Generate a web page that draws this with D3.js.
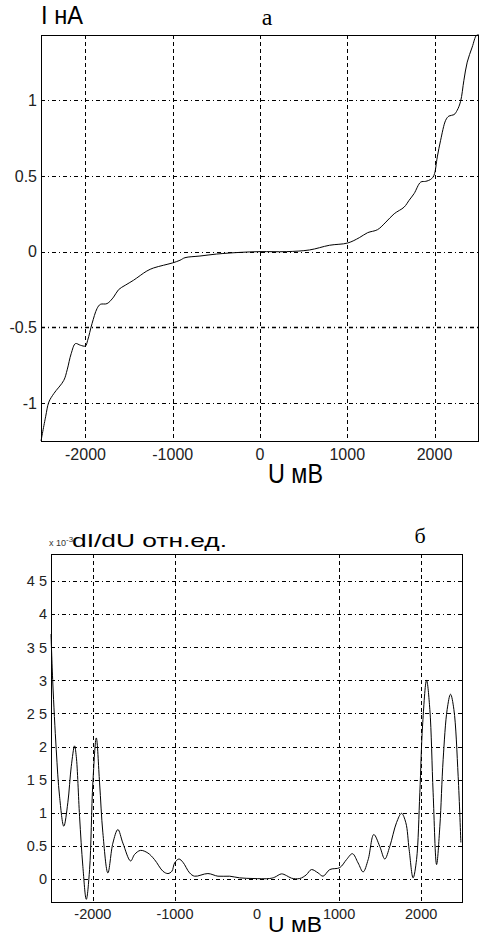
<!DOCTYPE html>
<html>
<head>
<meta charset="utf-8">
<script src="https://cdn.jsdelivr.net/npm/d3@7"></script>
<style>
  body { margin: 0; background: #fff; }
  svg { display: block; font-family: "Liberation Sans", Arial, sans-serif; }
</style>
</head>
<body>
<svg id="chart" width="496" height="945"></svg>
<script>
// I-V curve (panel a): voltage in mV, current in nA
const ivU = [-2510, -2457, -2420, -2363, -2249, -2210, -2164, -2115, -2058, -2001, -1975, -1925, -1868, -1830,
  -1753, -1678, -1621, -1545, -1450, -1297, -1221, -1107, -1005, -917, -860, -688, -498, -232, 0, 301, 567,
  796, 1005, 1138, 1233, 1347, 1443, 1538, 1652, 1709, 1766, 1842, 1900, 1957, 1994, 2032, 2070, 2128, 2165,
  2223, 2260, 2299, 2337, 2375, 2432, 2482, 2510];
const ivI = [-1.25, -1.09, -0.993, -0.937, -0.85, -0.78, -0.673, -0.607, -0.618, -0.623, -0.585, -0.475, -0.376, -0.348,
  -0.343, -0.30, -0.251, -0.222, -0.189, -0.128, -0.108, -0.09, -0.075, -0.057, -0.04, -0.029, -0.016, -0.005, 0, 0, 0.011,
  0.042, 0.057, 0.092, 0.125, 0.145, 0.195, 0.25, 0.294, 0.339, 0.383, 0.459, 0.464, 0.477, 0.504, 0.625, 0.735, 0.867, 0.895,
  0.904, 0.933, 0.992, 1.131, 1.251, 1.35, 1.428, 1.43];

// dI/dU (panel б), x10^-3 rel. units
const dU = [-2510, -2488, -2446, -2406, -2354, -2305, -2263, -2223, -2202, -2162, -2122, -2080, -2040, -2000, -1958,
  -1918, -1878, -1817, -1756, -1695, -1634, -1540, -1491, -1420, -1329, -1248, -1146, -1085, -1037, -1004, -951, -902,
  -821, -760, -598, -476, -333, -211, -49, 155, 216, 298, 358, 420, 521, 600, 663, 744, 805, 887, 1009, 1090, 1163,
  1232, 1293, 1354, 1423, 1496, 1557, 1618, 1700, 1761, 1813, 1854, 1902, 1944, 1984, 2017, 2066, 2106, 2146, 2188,
  2228, 2268, 2317, 2358, 2399, 2451, 2484];
const dG = [3.7, 2.96, 1.95, 1.25, 0.795, 1.15, 1.70, 2.01, 1.85, 0.946, 0.19, -0.31, 0.14, 1.45, 2.13,
  1.45, 0.695, 0.09, 0.54, 0.745, 0.54, 0.27, 0.37, 0.43, 0.39, 0.29, 0.115, 0.08, 0.115, 0.24, 0.30, 0.25,
  0.09, 0.04, 0.08, 0.04, 0.04, 0.015, 0.005, 0.005, 0.025, 0.075, 0.05, 0.01, 0.005, 0.06, 0.14, 0.09, 0.04, 0.14, 0.17, 0.29, 0.38,
  0.24, 0.105, 0.29, 0.67, 0.49, 0.30, 0.49, 0.85, 0.99, 0.85, 0.44, 0.015, 0.29, 1.30, 2.31, 3.00, 2.56, 1.30, 0.216,
  0.795, 1.80, 2.56, 2.79, 2.56, 1.55, 0.55];

// ticks
const ivXTicks = [-2000, -1000, 0, 1000, 2000];
const ivYTicks = [-1, -0.5, 0, 0.5, 1];
const ivYLabels = ["-1", "-0.5", "0", "0.5", "1"];
const dXTicks = [-2000, -1000, 0, 1000, 2000];
const dXGrid = [-2000, -1000, 1000, 2000];
const dYTicks = [0, 0.5, 1, 1.5, 2, 2.5, 3, 3.5, 4, 4.5];
const dYLabels = ["0", "0.5", "1", "1 5", "2", "2 5", "3", "3 5", "4", "4 5"];

const svg = d3.select("#chart");

function panel(opt) {
  const x = d3.scaleLinear().domain(opt.xDomain).range([opt.left, opt.right]);
  const y = d3.scaleLinear().domain(opt.yDomain).range([opt.bottom, opt.top]);
  const g = svg.append("g");

  // horizontal grid: dash-dot
  g.selectAll(".hgrid").data(opt.yTicks).enter().append("line")
    .attr("x1", opt.left).attr("x2", opt.right)
    .attr("y1", d => Math.round(y(d)) + 0.5).attr("y2", d => Math.round(y(d)) + 0.5)
    .attr("stroke", "#000")
    .attr("stroke-width", d => d === opt.boldY ? 1.6 : 1)
    .attr("stroke-dasharray", "4,3,1,3");

  // vertical grid: dashed
  g.selectAll(".vgrid").data(opt.xGrid).enter().append("line")
    .attr("x1", d => Math.round(x(d)) + 0.5).attr("x2", d => Math.round(x(d)) + 0.5)
    .attr("y1", opt.top).attr("y2", opt.bottom)
    .attr("stroke", "#000")
    .attr("stroke-dasharray", "4,3");

  // curve
  const line = d3.line()
    .x((d, i) => x(opt.u[i]))
    .y(d => y(d))
    .curve(d3.curveCatmullRom.alpha(0.5));
  g.append("path")
    .datum(opt.v)
    .attr("d", line)
    .attr("fill", "none")
    .attr("stroke", "#000")
    .attr("stroke-width", 1);

  // frame
  g.append("rect")
    .attr("x", opt.left + 0.5).attr("y", opt.top + 0.5)
    .attr("width", opt.right - opt.left - 1).attr("height", opt.bottom - opt.top)
    .attr("fill", "none").attr("stroke", "#000");

  // tick labels
  g.selectAll(".xl").data(opt.xTicks).enter().append("text")
    .attr("x", d => x(d)).attr("y", opt.xLabelY)
    .attr("text-anchor", "middle")
    .attr("font-size", opt.fs).attr("fill", "#222")
    .text(d => d);
  g.selectAll(".yl").data(opt.yTicks).enter().append("text")
    .attr("x", opt.left - 4).attr("y", d => y(d))
    .attr("dy", "0.36em")
    .attr("text-anchor", "end")
    .attr("font-size", opt.fs).attr("fill", "#222")
    .text((d, i) => opt.yLabels[i]);
}

panel({
  left: 41, right: 479, top: 35, bottom: 441,
  xDomain: [-2510, 2510], yDomain: [-1.25, 1.43],
  u: ivU, v: ivI,
  xTicks: ivXTicks, xGrid: ivXTicks, yTicks: ivYTicks, yLabels: ivYLabels,
  boldY: -0.5, fs: 16, xLabelY: 460
});

panel({
  left: 51, right: 463, top: 554, bottom: 902,
  xDomain: [-2510, 2510], yDomain: [-0.35, 4.91],
  u: dU, v: dG,
  xTicks: dXTicks, xGrid: dXGrid, yTicks: dYTicks, yLabels: dYLabels,
  boldY: null, fs: 14.5, xLabelY: 919
});

// titles and axis names
svg.append("text").attr("x", 41).attr("y", 24)
  .attr("font-size", 25).attr("textLength", 42).attr("lengthAdjust", "spacingAndGlyphs")
  .text("I нA");
svg.append("text").attr("x", 267).attr("y", 25).attr("text-anchor", "middle")
  .attr("font-family", "'Liberation Serif', 'Times New Roman', serif").attr("font-size", 24)
  .text("a");
svg.append("text").attr("x", 268).attr("y", 483)
  .attr("font-size", 28).attr("textLength", 55).attr("lengthAdjust", "spacingAndGlyphs")
  .text("U мВ");

const sub = svg.append("text").attr("x", 49).attr("y", 546).attr("font-size", 9).attr("fill", "#333");
sub.append("tspan").text("x 10");
sub.append("tspan").attr("dy", -4).attr("font-size", 8).text("-3");
svg.append("text").attr("x", 72).attr("y", 547)
  .attr("font-size", 19).attr("textLength", 155).attr("lengthAdjust", "spacingAndGlyphs")
  .text("dI/dU отн.ед.");
svg.append("text").attr("x", 420).attr("y", 543).attr("text-anchor", "middle")
  .attr("font-family", "'Liberation Serif', 'Times New Roman', serif").attr("font-size", 22)
  .text("б");
svg.append("text").attr("x", 268).attr("y", 932)
  .attr("font-size", 22).attr("textLength", 54).attr("lengthAdjust", "spacingAndGlyphs")
  .text("U мВ");
</script>
</body>
</html>
